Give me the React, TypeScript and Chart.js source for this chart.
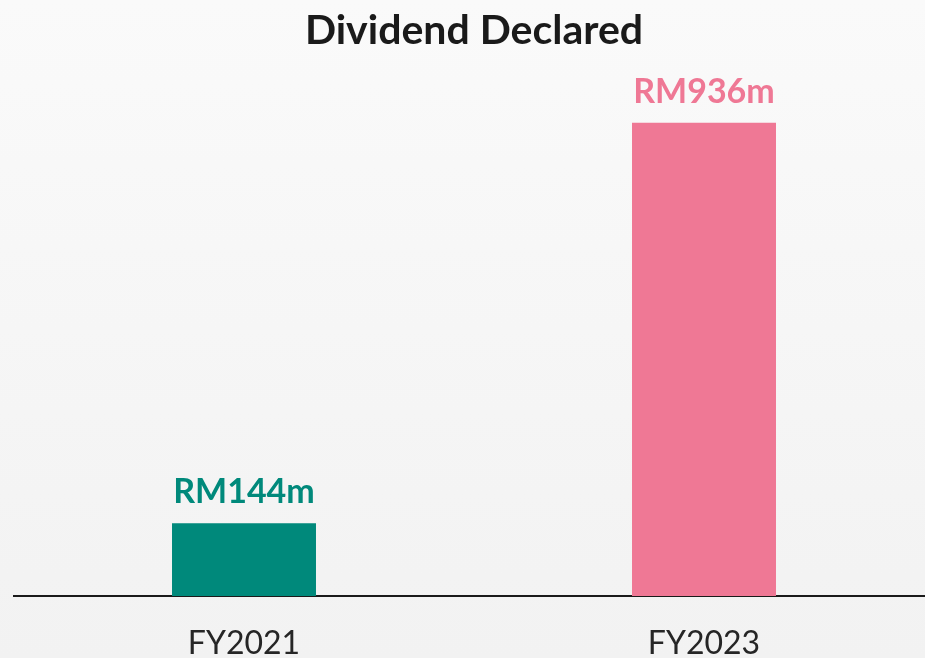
import React, { useEffect, useRef } from "react";
import { Chart, registerables } from "chart.js";

Chart.register(...registerables);

const TITLE = "Dividend Declared";
const categories = ["FY2021", "FY2023"];
const dividends = [144, 936];
const barColors = ["#00897B", "#EF7895"];
const labelPrefix = "RM";
const labelSuffix = "m";

const valueLabels = {
  id: "valueLabels",
  afterDatasetsDraw(chart: any) {
    const ctx = chart.ctx;
    const meta = chart.getDatasetMeta(0);
    const ds = chart.data.datasets[0];
    ctx.save();
    ctx.font = "bold 34px Lato";
    ctx.textAlign = "center";
    ctx.textBaseline = "alphabetic";
    meta.data.forEach((bar: any, i: number) => {
      ctx.fillStyle = (ds.backgroundColor as string[])[i];
      ctx.fillText(`${labelPrefix}${ds.data[i]}${labelSuffix}`, bar.x, bar.y - 20);
    });
    ctx.restore();
  },
};

export default function App() {
  const ref = useRef<HTMLCanvasElement | null>(null);
  useEffect(() => {
    if (!ref.current) return;
    const chart = new Chart(ref.current, {
      type: "bar",
      data: {
        labels: categories,
        datasets: [
          {
            data: dividends,
            backgroundColor: barColors,
            borderWidth: 0,
            barPercentage: 0.313,
            categoryPercentage: 1,
          },
        ],
      },
      options: {
        animation: false,
        responsive: false,
        maintainAspectRatio: false,
        layout: { padding: { left: 14, right: 21, top: 0, bottom: 0 } },
        plugins: {
          legend: { display: false },
          tooltip: { enabled: false },
          title: {
            display: true,
            text: TITLE,
            color: "#1a1a1a",
            font: { family: "Lato", size: 41, weight: "bold", lineHeight: 1.2 },
            padding: { top: 6.2, bottom: 4.6 },
          },
        },
        scales: {
          x: {
            grid: { display: false, drawTicks: false },
            border: { display: true, color: "#1a1a1a", width: 2 },
            ticks: {
              color: "#262626",
              font: { family: "Lato", size: 32 },
              padding: 28,
            },
            afterFit(scale: any) {
              scale.height = 62;
            },
          },
          y: {
            display: false,
            min: 0,
            max: 1060,
            grid: { display: false },
          },
        },
      },
      plugins: [valueLabels],
    });
    return () => chart.destroy();
  }, []);
  return (
    <div
      style={{
        position: "fixed",
        left: 0,
        top: 0,
        width: 925,
        height: 658,
        overflow: "hidden",
        background: "linear-gradient(180deg, #fafafa 0%, #f2f2f2 100%)",
      }}
    >
      <canvas ref={ref} width={955} height={658} style={{ display: "block" }} />
    </div>
  );
}
